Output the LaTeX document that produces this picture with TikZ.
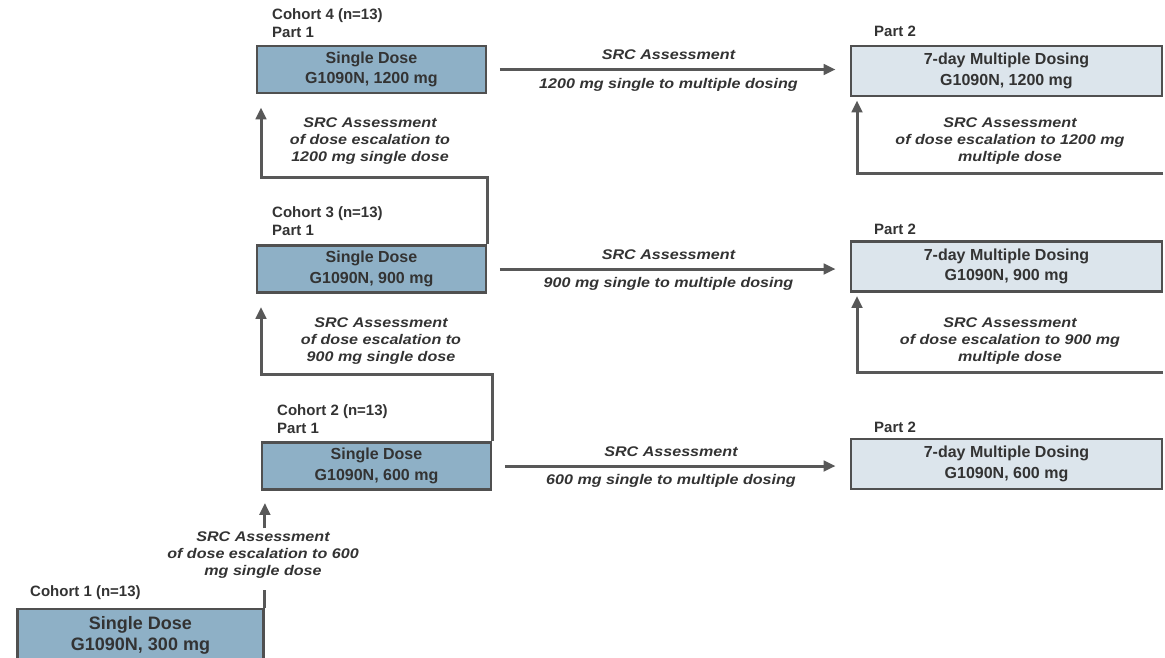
\documentclass[tikz,border=0pt]{standalone}
\usepackage{fontspec}
\setmainfont{Liberation Sans}
\newfontfamily\srcfont[FakeStretch=1.15]{Liberation Sans}
\usetikzlibrary{arrows.meta}
\definecolor{boxline}{HTML}{505050}
\definecolor{singlefill}{HTML}{8EB0C6}
\definecolor{multifill}{HTML}{DCE5EC}
\definecolor{arrowgray}{HTML}{585858}
\definecolor{textgray}{HTML}{333333}

\begin{document}
\begin{tikzpicture}[x=1pt, y=-1pt,
    every node/.style={text=textgray},
    single/.style={draw=boxline, line width=2.8pt, fill=singlefill, minimum width=229pt,
      minimum height=47pt, align=center, inner sep=0pt, font=\fontsize{16}{20.5}\selectfont\bfseries},
    multi/.style={single, fill=multifill, minimum width=311pt, minimum height=50pt},
    lab/.style={anchor=west, align=left, inner sep=0pt, font=\fontsize{15}{18}\selectfont\bfseries},
    src/.style={align=center, inner sep=0pt, font=\srcfont\fontsize{14}{17}\selectfont\bfseries\itshape},
    arr/.style={draw=arrowgray, line width=3pt, -{Triangle[width=10.5pt,length=12pt]}},
    plain/.style={draw=arrowgray, line width=3pt}]
      \useasboundingbox (0,0) rectangle (1165,657);
      \node[single] (c4) at (371.5,69.5) {Single Dose\\G1090N, 1200 mg};
      \node[single] (c3) at (371.5,269) {Single Dose\\G1090N, 900 mg};
      \node[single] (c2) at (376.5,466) {Single Dose\\G1090N, 600 mg};
      \node[single, minimum width=246pt, minimum height=52pt,
        font=\fontsize{18}{21}\selectfont\bfseries] (c1) at (140.5,635) {Single Dose\\G1090N, 300 mg};
      \node[multi] (p4) at (1006.5,71) {7-day Multiple Dosing\\G1090N, 1200 mg};
      \node[multi] (p3) at (1006.5,266.5) {7-day Multiple Dosing\\G1090N, 900 mg};
      \node[multi] (p2) at (1006.5,464) {7-day Multiple Dosing\\G1090N, 600 mg};
      \node[lab] (l4) at (272,23) {Cohort 4 (n=13)\\Part 1};
      \node[lab] (l3) at (272,221.5) {Cohort 3 (n=13)\\Part 1};
      \node[lab] (l2) at (277,419) {Cohort 2 (n=13)\\Part 1};
      \node[lab] (l1) at (30,593) {Cohort 1 (n=13)};
      \node[lab] (q4) at (874,31) {Part 2};
      \node[lab] (q3) at (874,229) {Part 2};
      \node[lab] (q2) at (874,427) {Part 2};
      \node[src] (e34) at (370,141) {SRC Assessment\\of dose escalation to\\1200 mg single dose};
      \node[src] (e23) at (381,341) {SRC Assessment\\of dose escalation to\\900 mg single dose};
      \node[src] (e12) at (263,555) {SRC Assessment\\of dose escalation to 600\\mg single dose};
      \node[src] (m4) at (1010,141) {SRC Assessment\\of dose escalation to 1200 mg\\multiple dose};
      \node[src] (m3) at (1010,341) {SRC Assessment\\of dose escalation to 900 mg\\multiple dose};
      \coordinate (k34) at (261,177);
      \coordinate (k23) at (261,374);
      \coordinate (r4) at (1163,173);
      \coordinate (r4b) at (857,173);
      \coordinate (r3) at (1163,372);
      \coordinate (r3b) at (857,372);
      \begin{scope}[shorten <=12.5pt, shorten >=14pt]
        \draw[arr] (c4.east) -- (c4.east -| p4.west)
          node[src, midway, above=8pt] {SRC Assessment}
          node[src, midway, below=7pt] {1200 mg single to multiple dosing};
        \draw[arr] (c3.east) -- (c3.east -| p3.west)
          node[src, midway, above=8pt] {SRC Assessment}
          node[src, midway, below=7pt] {900 mg single to multiple dosing};
        \draw[arr] (c2.east) -- (c2.east -| p2.west)
          node[src, midway, above=8pt] {SRC Assessment}
          node[src, midway, below=7pt] {600 mg single to multiple dosing};
      \end{scope}
      \draw[arr, shorten >=13pt] (c3.north east) |- (k34) -- (k34 |- c4.south);
      \draw[arr, shorten >=13pt] (c2.north east) |- (k23) -- (k23 |- c3.south);
      \draw[plain, shorten >=11pt] (c1.north east) -- (c1.north east |- e12.south);
      \draw[arr, shorten <=3pt, shorten >=12pt] (e12.north -| c1.north east) -- (c1.north east |- c2.south);
      \draw[arr, shorten >=3pt] (r4) -- (r4b) -- (r4b |- p4.south);
      \draw[arr, shorten >=3pt] (r3) -- (r3b) -- (r3b |- p3.south);
    \end{tikzpicture}
\end{document}
